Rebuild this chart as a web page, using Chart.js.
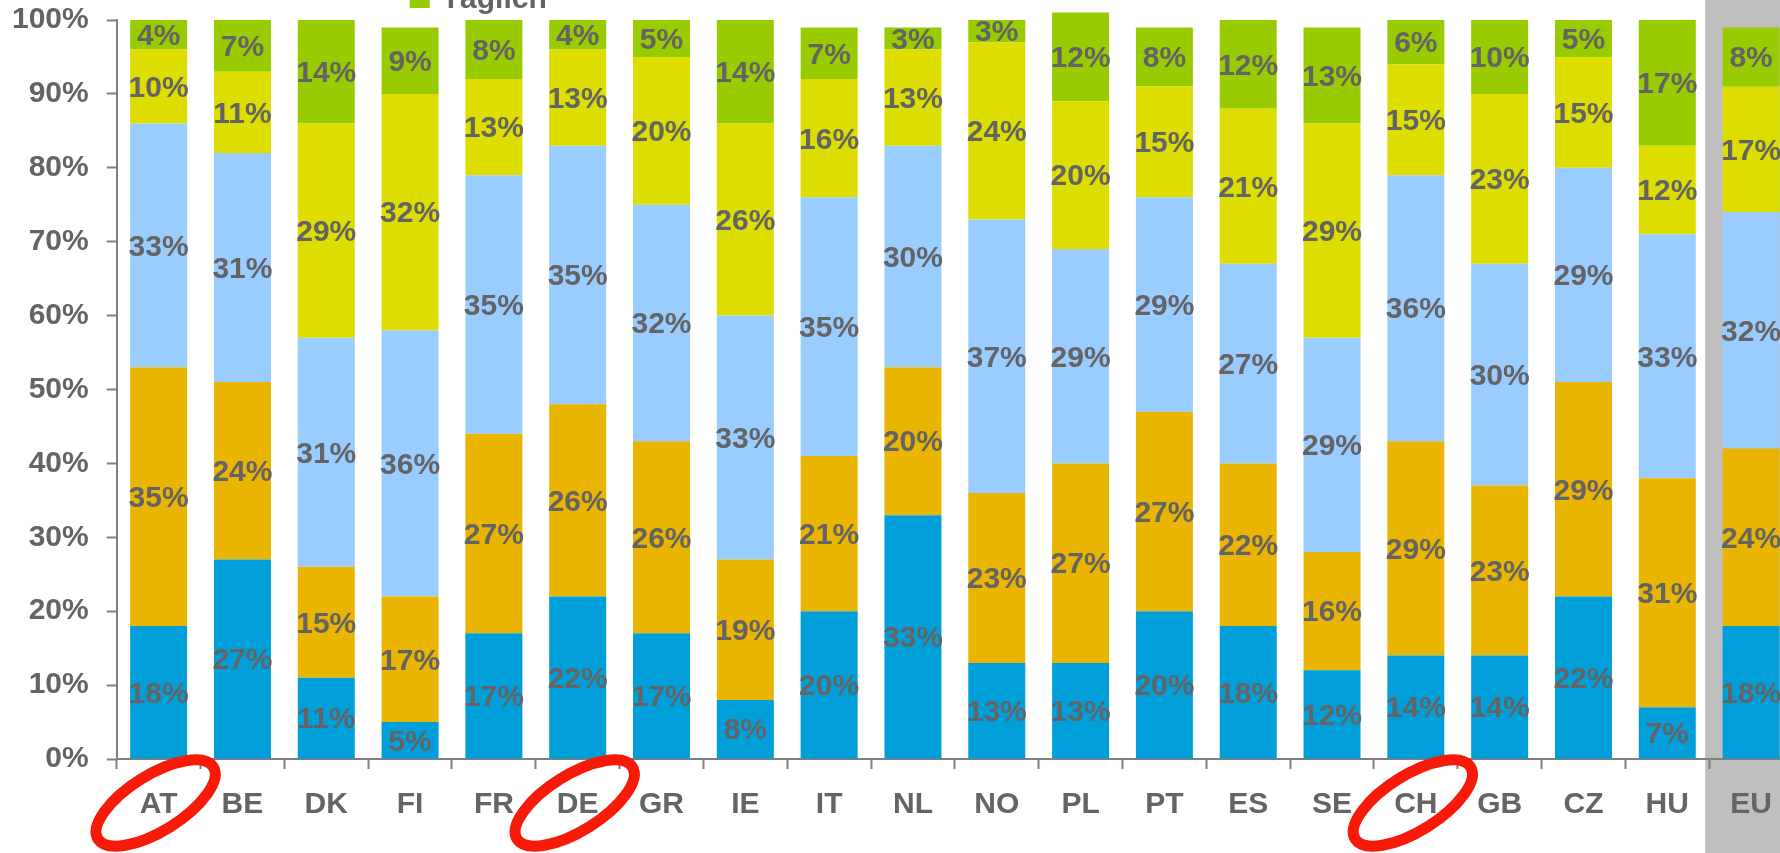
<!DOCTYPE html>
<html>
<head>
<meta charset="utf-8">
<script src="https://cdn.jsdelivr.net/npm/chart.js@4.4.1/dist/chart.umd.min.js"></script>
<style>
  html, body { margin: 0; padding: 0; background: #ffffff; overflow: hidden; width: 1780px; height: 853px; }
  #wrap { position: absolute; left: -16px; top: -16px; width: 1809px; height: 887px; }
</style>
</head>
<body>
<div id="wrap"><canvas id="c"></canvas></div>
<script>
// ---- data ----
const countries = ['AT','BE','DK','FI','FR','DE','GR','IE','IT','NL','NO','PL','PT','ES','SE','CH','GB','CZ','HU','EU'];
const seriesNames = ['Nie', 'Selten', 'Monatlich', 'Wöchentlich', 'Täglich'];
const nie         = [18, 27, 11,  5, 17, 22, 17,  8, 20, 33, 13, 13, 20, 18, 12, 14, 14, 22,  7, 18];
const selten      = [35, 24, 15, 17, 27, 26, 26, 19, 21, 20, 23, 27, 27, 22, 16, 29, 23, 29, 31, 24];
const monatlich   = [33, 31, 31, 36, 35, 35, 32, 33, 35, 30, 37, 29, 29, 27, 29, 36, 30, 29, 33, 32];
const woechentlich= [10, 11, 29, 32, 13, 13, 20, 26, 16, 13, 24, 20, 15, 21, 29, 15, 23, 15, 12, 17];
const taeglich    = [ 4,  7, 14,  9,  8,  4,  5, 14,  7,  3,  3, 12,  8, 12, 13,  6, 10,  5, 17,  8];
const yTicks = [0, 10, 20, 30, 40, 50, 60, 70, 80, 90, 100];
const highlighted = ['AT', 'DE', 'CH'];
const shadedCategory = 'EU';

// ---- styles ----
const colors = ['#009FDA', '#E9B500', '#99CCFF', '#DDDD00', '#99CC00'];
const textGray = '#646464';
const axisGray = '#7F7F7F';
const FONT = '"Liberation Sans", Arial, sans-serif';

const seriesValues = [nie, selten, monatlich, woechentlich, taeglich];
const datasets = seriesValues.map((vals, i) => ({
  label: seriesNames[i],
  data: vals,
  backgroundColor: colors[i],
  borderWidth: 0,
  clip: false,
  categoryPercentage: 0.68,
  barPercentage: 1.0
}));

const shadePlugin = {
  id: 'shade',
  beforeDraw(chart) {
    const x = chart.scales.x;
    const idx = countries.indexOf(shadedCategory);
    const half = (x.getPixelForValue(1) - x.getPixelForValue(0)) / 2;
    const left = x.getPixelForValue(idx) - half - 4;
    const ctx = chart.ctx;
    ctx.save();
    ctx.fillStyle = '#BFBFBF';
    ctx.fillRect(left, 0, chart.width - left, chart.height);
    ctx.restore();
  }
};

const labelPlugin = {
  id: 'segLabels',
  afterDatasetsDraw(chart) {
    const ctx = chart.ctx;
    ctx.save();
    ctx.font = 'bold 30px ' + FONT;
    ctx.fillStyle = textGray;
    ctx.textAlign = 'center';
    ctx.textBaseline = 'middle';
    chart.data.datasets.forEach((ds, di) => {
      const meta = chart.getDatasetMeta(di);
      meta.data.forEach((el, i) => {
        const v = ds.data[i];
        const y = (el.y + el.base) / 2 + 2;
        ctx.fillText(v + '%', el.x, y);
      });
    });
    ctx.restore();
  }
};

const overlayPlugin = {
  id: 'overlay',
  afterDraw(chart) {
    const ctx = chart.ctx;
    const x = chart.scales.x;
    const area = chart.chartArea;
    // partial legend row (only the last item reaches into the picture)
    ctx.save();
    ctx.fillStyle = colors[4];
    ctx.fillRect(area.left + 293, area.top - 32, 20, 20);
    ctx.font = 'bold 30px ' + FONT;
    ctx.fillStyle = textGray;
    ctx.textAlign = 'left';
    ctx.textBaseline = 'alphabetic';
    ctx.fillText(seriesNames[4], area.left + 325, area.top - 12);
    ctx.restore();
    // red hand-drawn ellipses
    ctx.save();
    ctx.strokeStyle = '#F81A08';
    ctx.lineWidth = 11;
    highlighted.forEach(c => {
      const cx = x.getPixelForValue(countries.indexOf(c)) - 3;
      const cy = area.bottom + 44;
      ctx.beginPath();
      ctx.ellipse(cx, cy, 68, 28, -32 * Math.PI / 180, 0, Math.PI * 2);
      ctx.stroke();
    });
    ctx.restore();
  }
};

new Chart(document.getElementById('c'), {
  type: 'bar',
  data: { labels: countries, datasets },
  plugins: [shadePlugin, labelPlugin, overlayPlugin],
  options: {
    responsive: true,
    maintainAspectRatio: false,
    animation: false,
    layout: { padding: { top: 1, left: 10, right: 0, bottom: 30 } },
    plugins: {
      legend: { display: false },
      tooltip: { enabled: false }
    },
    scales: {
      x: {
        stacked: true,
        grid: { display: true, drawOnChartArea: false, drawTicks: true, tickLength: 10, tickColor: axisGray, tickWidth: 2, offset: true },
        border: { display: true, color: axisGray, width: 2 },
        ticks: { color: textGray, font: { family: FONT, size: 30, weight: 'bold' }, padding: 18, maxRotation: 0, autoSkip: false }
      },
      y: {
        stacked: true,
        min: 0,
        max: 100,
        afterBuildTicks(axis) { axis.ticks = yTicks.map(v => ({ value: v })); },
        grid: { display: true, drawOnChartArea: false, drawTicks: true, tickLength: 10, tickColor: axisGray, tickWidth: 2 },
        border: { display: true, color: axisGray, width: 2 },
        ticks: { color: textGray, font: { family: FONT, size: 30, weight: 'bold' }, padding: 18, callback: v => v + '%' }
      }
    }
  }
});
</script>
</body>
</html>
